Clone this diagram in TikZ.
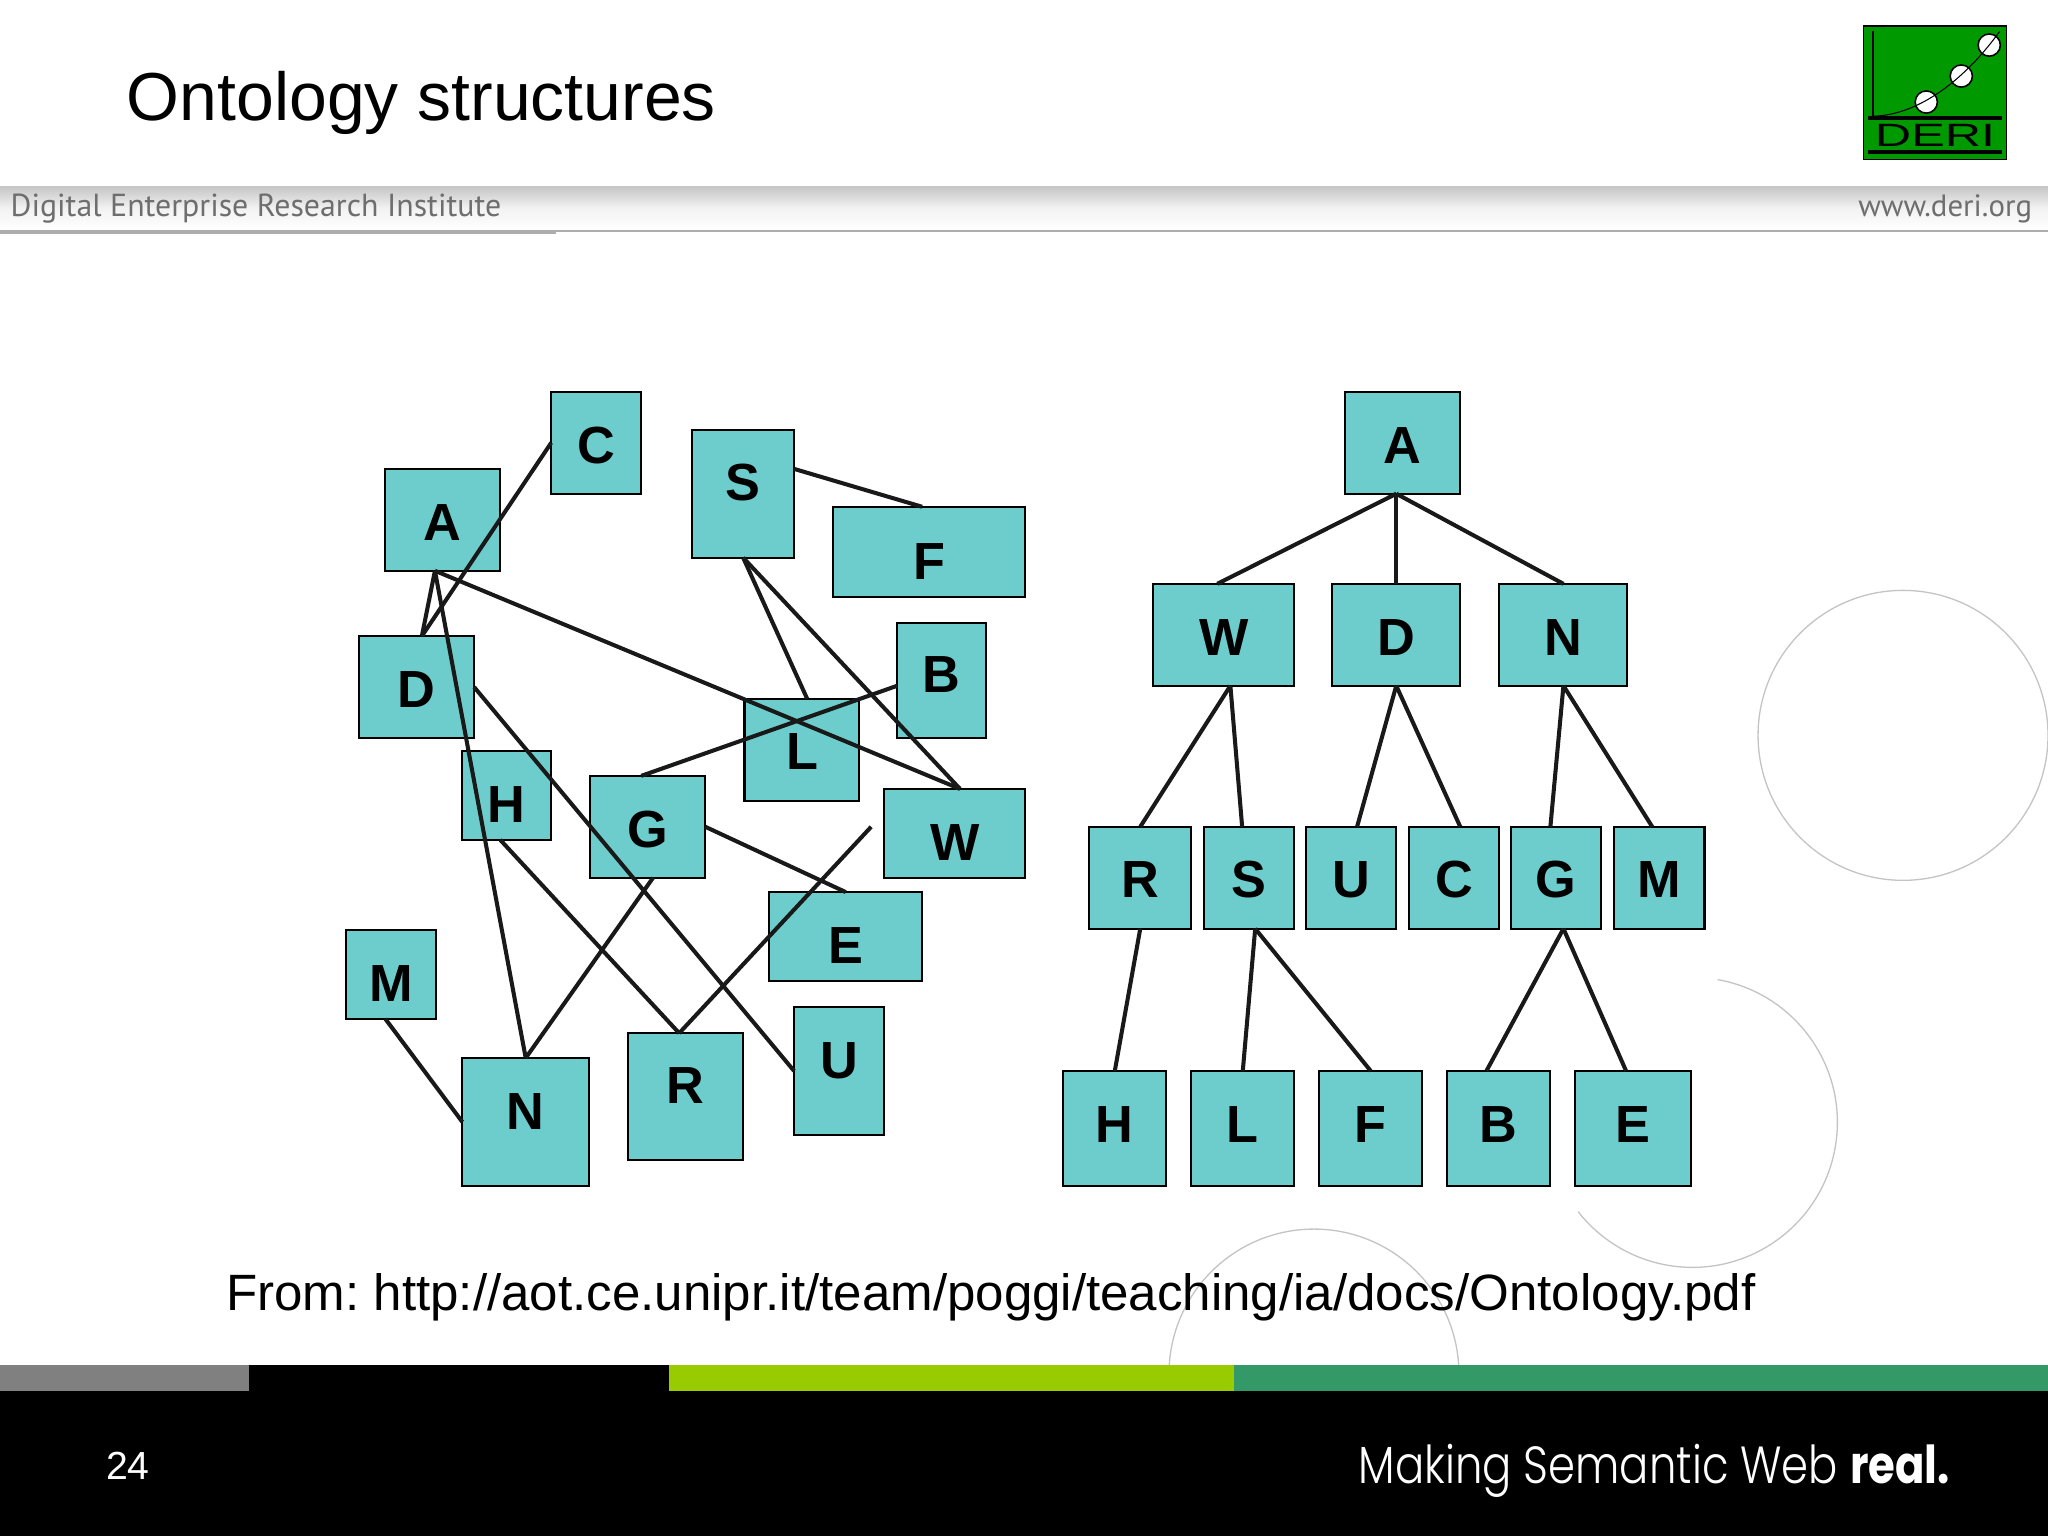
\documentclass[tikz,border=0pt]{standalone}
\usepackage{fontspec}
\setmainfont{Liberation Sans}
\newfontfamily\hdrfont{PT Sans}
\newfontfamily\tagfont[FakeStretch=0.83]{Poppins Light}
\newfontfamily\tagboldfont[FakeStretch=0.83]{Poppins}
\definecolor{boxfill}{HTML}{6DCDCD}
\definecolor{logogreen}{HTML}{009900}
\definecolor{ringgray}{HTML}{C4C4C4}
\definecolor{hdrgray}{HTML}{6E6E6E}
\definecolor{bargreen}{HTML}{99CC00}
\definecolor{bardark}{HTML}{339966}
\tikzset{
	box/.style 2 args={draw=black,line width=1.6pt,fill=boxfill,inner sep=0pt,outer sep=0pt,minimum width=#1pt,minimum height=#2pt,text height=31pt,text depth=0pt,font=\fontsize{40}{48}\selectfont\bfseries},
	edge/.style={line width=3.1pt,black!90},
	ring/.style={line width=1pt,ringgray}
}
\begin{document}
\frenchspacing
\begin{tikzpicture}[x=1pt,y=-1pt]
	\useasboundingbox (0,0) rectangle (1568,1176);
	\fill[white] (0,0) rectangle (1568,1176);
	\draw[ring] (1457,563) circle[radius=111pt];
	\draw[ring] (1315,750) arc[start angle=80,end angle=-142,radius=111pt];
	\draw[ring] (1006,1052) circle[radius=111pt];
	\shade[top color=black!22,bottom color=white,middle color=black!5] (0,143) rectangle (1568,176);
	\fill[black!32] (0,176) rectangle (1568,178);
	\fill[black!32] (0,177) rectangle (426,179);
	\node[anchor=base west,inner sep=0pt,text=hdrgray,font=\hdrfont\fontsize{24.4}{30}\selectfont] (hdrleft) at (8,166) {Digital Enterprise Research Institute};
	\node[anchor=base east,inner sep=0pt,text=hdrgray,font=\hdrfont\fontsize{23.6}{30}\selectfont] (hdrright) at (1556,166) {www.deri.org};
	\node[anchor=base west,inner sep=0pt,font=\fontsize{52}{62}\selectfont] (title) at (97,92) {Ontology structures};
	\draw[line width=1pt,fill=logogreen] (1426.5,20) rectangle (1536,122);
	\draw[line width=.8pt] (1434,24)--(1434,89);
	\fill[black] (1430.5,88.5) rectangle (1532.5,92);
	\fill[black] (1430.5,114.5) rectangle (1532.5,118);
	\foreach \cx/\cy in {1474.8/78.1,1501.6/58.2,1523/34.5}
		\draw[line width=1.2pt,fill=white] (\cx,\cy) circle[radius=8.5pt];
	\draw[line width=.8pt] (1434,89) .. controls (1470,88) and (1505,60) .. (1531,24);
	\node[inner sep=0pt] (logotext) at (1481.5,103.5) {\resizebox{92pt}{17pt}{DERI}};

	\node[box={69}{78}] (C) at (456.5,339) {C};
	\node[box={88}{78}] (A) at (339,398) {A};
	\node[box={78}{98},text depth=20pt] (S) at (569,378) {S};
	\node[box={147}{69},text height=42pt] (F) at (711.5,422.5) {F};
	\node[box={88}{78}] (D) at (319,526) {D};
	\node[box={68}{88},text depth=12pt] (B) at (721,521) {B};
	\node[box={88}{78}] (L) at (614,574) {L};
	\node[box={68}{68},text height=41pt] (H) at (388,609) {H};
	\node[box={88}{78}] (G) at (496,633) {G};
	\node[box={108}{68},text height=41pt] (W) at (731,638) {W};
	\node[box={69}{68},text height=41pt] (M) at (299.5,746) {M};
	\node[box={117}{68},text height=41pt] (E) at (647.5,717) {E};
	\node[box={69}{98},text depth=20pt] (U) at (642.5,820) {U};
	\node[box={88}{97},text depth=21pt] (R) at (525,839.5) {R};
	\node[box={97}{98},text depth=20pt] (N) at (402.5,859) {N};
	\coordinate (Wend) at (667,633);
	\draw[edge] (C.west)--([xshift=4pt]D.north);
	\draw[edge] ([xshift=-6pt]A.south)--([xshift=4pt]D.north);
	\draw[edge] ([xshift=-6pt]A.south)--(N.north);
	\draw[edge] ([xshift=-6pt]A.south)--([xshift=4pt]W.north);
	\draw[edge] ([yshift=19pt]S.east)--([xshift=-5.5pt]F.north);
	\draw[edge] (S.south)--([xshift=4pt]L.north);
	\draw[edge] (S.south)--([xshift=4pt]W.north);
	\draw[edge] ([yshift=-4pt]B.west)--([xshift=-5pt]G.north);
	\draw[edge] (D.east)--(U.west);
	\draw[edge] ([xshift=-5pt]H.south)--([xshift=-5pt]R.north);
	\draw[edge] (G.east)--(E.north);
	\draw[edge] ([xshift=4pt]G.south)--(N.north);
	\draw[edge] (Wend)--([xshift=-5pt]R.north);
	\draw[edge] ([xshift=-4.5pt]M.south)--(N.west);

	\node[box={88}{78}] (tA) at (1074,339) {A};
	\node[box={108}{78}] (tW) at (937,486) {W};
	\node[box={98}{78}] (tD) at (1069,486) {D};
	\node[box={98}{78}] (tN) at (1197,486) {N};
	\node[box={78}{78}] (tR) at (873,672) {R};
	\node[box={69}{78}] (tS) at (956.5,672) {S};
	\node[box={69}{78}] (tU) at (1034.5,672) {U};
	\node[box={69}{78}] (tC) at (1113.5,672) {C};
	\node[box={69}{78}] (tG) at (1191.5,672) {G};
	\node[box={69}{78}] (tM) at (1270.5,672) {M};
	\node[box={79}{88},text depth=10pt] (tH) at (853.5,864) {H};
	\node[box={79}{88},text depth=10pt] (tL) at (951.5,864) {L};
	\node[box={79}{88},text depth=10pt] (tF) at (1049.5,864) {F};
	\node[box={79}{88},text depth=10pt] (tB) at (1147.5,864) {B};
	\node[box={89}{88},text depth=10pt] (tE) at (1250.5,864) {E};
	\draw[edge] ([xshift=-5pt]tA.south)--([xshift=-5pt]tW.north);
	\draw[edge] ([xshift=-5pt]tA.south)--(tD.north);
	\draw[edge] ([xshift=-5pt]tA.south)--(tN.north);
	\draw[edge] ([xshift=5pt]tW.south)--(tR.north);
	\draw[edge] ([xshift=5pt]tW.south)--([xshift=-5.5pt]tS.north);
	\draw[edge] (tD.south)--([xshift=4.5pt]tU.north);
	\draw[edge] (tD.south)--([xshift=4.5pt]tC.north);
	\draw[edge] (tN.south)--([xshift=-4.5pt]tG.north);
	\draw[edge] (tN.south)--([xshift=-5.5pt]tM.north);
	\draw[edge] (tR.south)--(tH.north);
	\draw[edge] ([xshift=4.5pt]tS.south)--(tL.north);
	\draw[edge] ([xshift=4.5pt]tS.south)--(tF.north);
	\draw[edge] ([xshift=5.5pt]tG.south)--([xshift=-9.5pt]tB.north);
	\draw[edge] ([xshift=5.5pt]tG.south)--([xshift=-5.5pt]tE.north);

	\node[anchor=base west,inner sep=0pt,font=\fontsize{39.1}{46}\selectfont] (source) at (173,1003) {From: http://aot.ce.unipr.it/team/poggi/teaching/ia/docs/Ontology.pdf};

	\fill[black] (0,1065) rectangle (1568,1176);
	\fill[black!50] (0,1045) rectangle (191,1065);
	\fill[black] (191,1045) rectangle (512,1065);
	\fill[bargreen] (512,1045) rectangle (945,1065);
	\fill[bardark] (945,1045) rectangle (1568,1065);
	\node[anchor=base west,inner sep=0pt,text=white,font=\fontsize{30}{36}\selectfont] (pagenum) at (81,1133) {24};
	\node[anchor=base east,inner sep=0pt,text=white,font=\fontsize{40}{48}\selectfont] (tagline) at (1493,1136) {\tagfont Making Semantic Web \tagboldfont\bfseries real.};
\end{tikzpicture}
\end{document}
